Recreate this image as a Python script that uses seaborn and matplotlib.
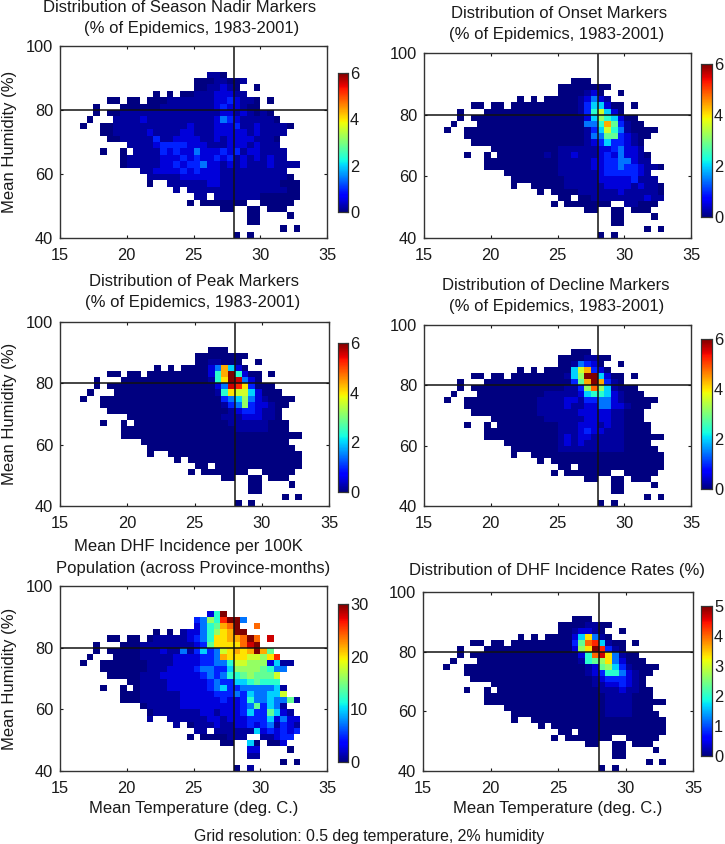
import numpy as np
import matplotlib
matplotlib.use("Agg")
import matplotlib.pyplot as plt
import seaborn as sns

sns.set_style("white")
plt.rcParams['font.family'] = ['Liberation Sans', 'DejaVu Sans']

W, H = 725, 844
Z = "0000000000"

# occupied bins, top humidity bin (92-90%) first: inclusive column spans (0.5 deg columns from 15 C)
OCCUPIED = [
    [(22, 24)], [(20, 27)], [(20, 26), (29, 29)], [(14, 14), (16, 16), (18, 27)],
    [(7, 8), (10, 11), (13, 29), (31, 31)], [(5, 5), (9, 29)], [(5, 5), (7, 31)],
    [(4, 4), (8, 32)], [(3, 3), (6, 34)], [(6, 33)], [(7, 32)], [(10, 32)],
    [(6, 6), (9, 9), (11, 33)], [(9, 33)], [(9, 35)], [(12, 33)], [(13, 34)],
    [(13, 13), (16, 35)], [(17, 17), (19, 35)], [(20, 21), (23, 35)],
    [(19, 19), (21, 27), (30, 34)], [(24, 25), (28, 29), (31, 33)],
    [(28, 29), (34, 34)], [(28, 29)], [(33, 33), (35, 35)], [(26, 26), (28, 28)],
]

LEVELS = [0, .03, .08, .16, .24, .33, .40, .47, .53, .60, .67, .73, .80, .87, .93, 1]

nadir = [
    Z+Z+"0011", Z+Z+"00011001", Z+Z+"0011210", Z+Z+"1112221100",
    Z+"0000001111"+"1112232110", Z+"0000011111"+"1112322100",
    "0000000001"+"1111111111"+"1111221210"+"1",
    "0000000011"+"1121111111"+"1112432111"+"11",
    "0000000011"+"1111111112"+"1112223112"+"1111",
    "0000000011"+"1112111122"+"1112222212"+"1111",
    "0000000001"+"1111311222"+"2112122221"+"11",
    Z+"1111233332"+"2211122212"+"111",
    Z+"0111132322"+"4222323122"+"1111",
    Z+"1111122232"+"3223231212"+"1211",
    Z+"1111122323"+"3422121211"+"121111",
    Z+"0011222232"+"3222111111"+"1111",
    Z+"0011111122"+"2222111111"+"1111",
    Z+"0000001111"+"1122111111"+"111",
    Z+"0000000101"+"1111111111"+"1111",
    Z+Z+"1101111111",
]
onset = [
    "", "", Z+Z+"0000120", Z+Z+"0001242100", Z+Z+"0001355200", Z+Z+"0001369520",
    Z+Z+"0000258652", Z+Z+"0000446b73"+"1", Z+Z+"0000135964"+"1",
    Z+Z+"0000144773"+"21", Z+Z+"0000123533"+"21", Z+Z+"1111112234"+"221",
    Z+"0000000010"+"1121112324"+"221", Z+Z+"1111122334"+"4211",
    Z+Z+"1111122334"+"33211", Z+Z+"1111112333"+"33211",
    Z+Z+"0111112222"+"23111", Z+Z+"0111111222"+"21211",
    Z+Z+"0001111112"+"11111", Z+Z+"0000011111"+"111211", Z+Z+Z+"11",
]
peak = [
    "", "", Z+Z+"0011", Z+Z+"0024b52000", Z+Z+"0026bf6200", Z+Z+"0016afe420",
    Z+Z+"00024eda30", Z+Z+"00016a9952", Z+Z+"0000345842"+"1",
    Z+Z+"0000134832"+"21", Z+Z+"0000012332"+"11", Z+Z+"0000111222"+"11",
    Z+Z+"0000011111"+"1", Z+Z+"0000001111"+"1",
]
decline = [
    "", Z+Z+"0000110", Z+Z+"0014320000", Z+Z+"0059b32000", Z+Z+"0158ff5200",
    Z+Z+"0037bfb310", Z+Z+"01138c8510", Z+"0000000011"+"1112566521",
    Z+"0000000111"+"1221334421", Z+"0000000111"+"1211224422"+"1",
    Z+"0000000111"+"1112222211", Z+"0000000011"+"1111222211",
    Z+Z+"1112221211", Z+Z+"1112322111", Z+Z+"1212211111", Z+Z+"1212111111",
    Z+Z+"1111111111",
]
mean_incidence = [
    Z+Z+"0026f",
    Z+Z+"3486dff4",
    Z+Z+"2467bcf00c",
    Z+"0000000012"+"2468abff00",
    Z+"0000111112"+"346aabbcfc"+"0e",
    Z+"0011111111"+"237aaaacef",
    Z+"0011121141"+"35349ababf"+"b7",
    Z+"0011111222"+"2334baaa99"+"8ad",
    Z+"0001111222"+"2334469988"+"82511",
    Z+"0001112222"+"3443358888"+"7644",
    Z+"0011122222"+"2343466787"+"779",
    Z+"0011112222"+"2234335567"+"666",
    Z+"0011112222"+"2234533444"+"4451",
    Z+"0011111122"+"2223334354"+"4559",
    Z+"0011111122"+"2222322364"+"454471",
    Z+"0001111122"+"2222222347"+"3541",
    Z+"0000111111"+"1221222353"+"37521",
    Z+"0001111111"+"1122122233"+"352422",
    Z+"0000000100"+"1112112232"+"341321",
    Z+Z+"1101111115"+"232323",
    Z+Z+"0000011100"+"11233",
    Z+Z+"0000000050"+"0002",
    Z+Z+"0000000022",
    Z+Z+"0000000011",
    "",
    Z+Z+"0000000010",
]
incidence_rates = [
    "", Z+Z+"0000110", Z+Z+"0012210000", Z+Z+"0025a41000", Z+Z+"0037cd5100",
    Z+Z+"0028afd310", Z+Z+"00026cea41", Z+Z+"0001678a42", Z+Z+"0000127853"+"1",
    Z+Z+"0000123664"+"21", Z+Z+"0000012333"+"21", Z+Z+"0000011223"+"21",
    Z+Z+"0000001112"+"11", Z+Z+"0000000111"+"1", Z+Z+"0000000111"+"1",
    Z+Z+"0000000111"+"1", Z+Z+"0000000111"+"1",
]

title_lines = [
    ["Distribution of Season Nadir Markers", "(% of Epidemics, 1983-2001)"],
    ["Distribution of Onset Markers", "(% of Epidemics, 1983-2001)"],
    ["Distribution of Peak Markers", "(% of Epidemics, 1983-2001)"],
    ["Distribution of Decline Markers", "(% of Epidemics, 1983-2001)"],
    ["Mean DHF Incidence per 100K", "Population (across Province-months)"],
    ["Distribution of DHF Incidence Rates (%)"],
]
series = [nadir, onset, peak, decline, mean_incidence, incidence_rates]
top_values = [6, 6, 6, 6, 30, 5]
cbar_ticks = [[0, 2, 4, 6], [0, 2, 4, 6], [0, 2, 4, 6], [0, 2, 4, 6], [0, 10, 20, 30], [0, 1, 2, 3, 4, 5]]
temp_ticks = [15, 20, 25, 30, 35]
hum_ticks = [40, 60, 80, 100]
temp_line, hum_line = 28, 80

# pixel boxes: left, top, right, bottom
ax_boxes = [(60, 46, 327, 238), (424, 53, 691, 238), (60, 322, 329, 506),
            (424, 325, 691, 506), (60, 586, 327, 771), (423, 592, 693, 771)]
cb_boxes = [(338, 73, 348, 212), (701, 64, 712, 217), (338, 343, 348, 492),
            (701, 339, 712, 489), (338, 604, 348, 762), (701, 606, 712, 756)]
title_pos = [[(180, 7), (192, 28)], [(559, 14), (557, 35)], [(194, 281), (193, 303)],
             [(556, 285), (557, 307)], [(188, 547), (193, 568)], [(557, 571)]]


def to_grid(rows):
    grid = np.zeros((30, 40))
    for i, row in enumerate(rows):
        row = row.ljust(40, "0")
        grid[4 + i] = [LEVELS[int(c, 16)] for c in row]
    return grid


def occupied_mask():
    mask = np.ones((30, 40), dtype=bool)
    for i, spans in enumerate(OCCUPIED):
        for a, b in spans:
            mask[4 + i, a:b + 1] = False
    mask[23, 22] = True
    return mask


def box(b):
    l, t, r, bt = b
    return [l / W, 1 - bt / H, (r - l) / W, (bt - t) / H]


fig = plt.figure(figsize=(W / 100, H / 100), dpi=100)
mask = occupied_mask()
INK = "#1a1a1a"
FS = 11.8
LFS = 12

for i, rows in enumerate(series):
    ax = fig.add_axes(box(ax_boxes[i]))
    cax = fig.add_axes(box(cb_boxes[i]))
    vmax = top_values[i]
    sns.heatmap(to_grid(rows) * vmax, mask=mask, cmap="jet", vmin=0, vmax=vmax, ax=ax, cbar_ax=cax,
                xticklabels=False, yticklabels=False, rasterized=True)
    ax.set_xticks([(t - 15) * 2 for t in temp_ticks], [str(t) for t in temp_ticks])
    ax.set_yticks([(100 - h) / 2 for h in hum_ticks], [str(h) for h in hum_ticks], rotation=0)
    ax.tick_params(direction="in", length=2.5, width=0.8, top=True, right=True, bottom=True, left=True,
                   labelsize=FS, colors=INK)
    ax.tick_params(axis="x", pad=7)
    ax.tick_params(axis="y", pad=5)
    for s in ax.spines.values():
        s.set_visible(True)
        s.set_color("#333333")
        s.set_linewidth(1.0)
    ax.axvline((temp_line - 15) * 2, color="#111111", lw=1.1)
    ax.axhline((100 - hum_line) / 2, color="#111111", lw=1.1)
    l, t, r, b = ax_boxes[i]
    for line, (cx, cy) in zip(title_lines[i], title_pos[i]):
        fig.text(cx / W, 1 - cy / H, line, ha="center", va="center", fontsize=LFS, color=INK)
    if i % 2 == 0:
        ax.set_ylabel("Mean Humidity (%)", fontsize=LFS, color=INK)
        ax.yaxis.set_label_coords((17.5 - l) / (r - l), 0.5)
    if i >= 4:
        ax.set_xlabel("Mean Temperature (deg. C.)", fontsize=LFS, color=INK, labelpad=4)
    cax.set_yticks(cbar_ticks[i], [str(v) for v in cbar_ticks[i]])
    cax.tick_params(direction="in", length=2, width=0.8, labelsize=FS, pad=1.5, colors=INK, right=True, left=False)
    for s in cax.spines.values():
        s.set_visible(True)
        s.set_color("#333333")
        s.set_linewidth(0.8)

fig.text(369 / W, 1 - 837 / H, "Grid resolution: 0.5 deg temperature, 2% humidity",
         ha="center", va="center", fontsize=11.4, color=INK)
fig.savefig("out.png", dpi=100)
